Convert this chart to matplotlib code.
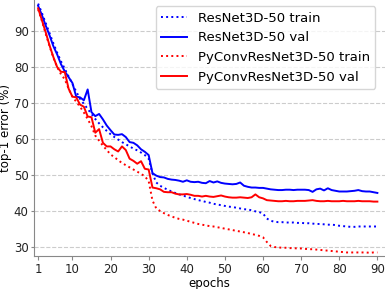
import matplotlib
matplotlib.use("Agg")
import matplotlib.pyplot as plt
import numpy as np

epochs = list(range(1, 91))

resnet_train = [97.6, 95.0, 92.2, 89.4, 86.6, 84.0, 81.6, 79.5, 77.4, 75.3,
                73.2, 71.2, 69.8, 68.4, 67.0, 65.6, 64.4, 63.3, 62.3, 61.4,
                60.6, 59.9, 59.2, 58.6, 58.0, 57.4, 56.9, 56.3, 55.6, 54.6,
                50.5, 48.0, 47.1, 46.5, 46.0, 45.5, 45.1, 44.7, 44.4, 44.0,
                43.7, 43.4, 43.1, 42.9, 42.6, 42.4, 42.1, 41.9, 41.7, 41.5,
                41.3, 41.2, 41.0, 40.8, 40.6, 40.5, 40.3, 40.0, 39.8, 39.4,
                38.0, 37.4, 37.1, 37.0, 37.0, 36.9, 36.9, 36.9, 36.8, 36.8,
                36.7, 36.7, 36.6, 36.5, 36.5, 36.4, 36.3, 36.3, 36.2, 36.0,
                35.9, 35.8, 35.7, 35.7, 35.8, 35.8, 35.8, 35.8, 35.8, 35.8]

resnet_val = [97.0, 94.4, 91.5, 88.8, 85.8, 83.5, 80.8, 78.8, 77.2, 75.6,
              71.8, 71.6, 70.8, 73.8, 67.5, 66.4, 67.0, 65.5, 63.8, 62.5,
              61.3, 61.2, 61.4, 60.6, 59.2, 59.0, 58.3, 57.2, 56.5, 55.6,
              50.6, 49.9, 49.5, 49.4, 49.0, 48.8, 48.7, 48.5, 48.2, 48.6,
              48.2, 48.1, 48.2, 47.9, 47.8, 48.4, 48.0, 48.3, 47.9, 47.7,
              47.6, 47.5, 47.6, 48.0, 47.1, 46.8, 46.6, 46.6, 46.5, 46.5,
              46.3, 46.1, 46.0, 45.9, 45.9, 46.0, 46.0, 45.9, 46.0, 46.0,
              46.0, 45.9, 45.4, 46.1, 46.3, 45.8, 46.4, 45.9, 45.7, 45.5,
              45.5, 45.5, 45.6, 45.7, 45.9, 45.6, 45.5, 45.5, 45.3, 45.1]

pyconv_train = [96.0, 92.8, 89.2, 85.8, 82.6, 80.0, 78.0, 76.6, 74.0, 71.8,
                70.4, 69.0, 67.4, 65.6, 63.6, 61.0, 59.6, 58.2, 57.0, 55.8,
                55.0, 54.2, 53.4, 52.8, 52.2, 51.6, 51.0, 50.4, 49.7, 48.4,
                43.0, 40.8, 40.1, 39.5, 39.0, 38.6, 38.2, 37.9, 37.7, 37.4,
                37.1, 36.8, 36.5, 36.3, 36.1, 35.9, 35.8, 35.6, 35.4, 35.2,
                35.0, 34.8, 34.6, 34.4, 34.2, 34.0, 33.7, 33.5, 33.2, 32.8,
                31.5, 30.4, 30.1, 30.0, 29.9, 29.9, 29.8, 29.8, 29.7, 29.7,
                29.6, 29.5, 29.5, 29.4, 29.3, 29.2, 29.1, 29.0, 28.9, 28.8,
                28.7, 28.6, 28.6, 28.6, 28.6, 28.6, 28.6, 28.5, 28.6, 28.6]

pyconv_val = [96.3, 93.0, 89.6, 86.0, 82.8, 80.0, 78.7, 78.6, 74.0, 71.8,
              71.6, 69.6, 69.0, 66.3, 66.1, 61.8, 62.8, 59.0, 58.0, 58.0,
              57.2, 56.6, 58.0, 57.0, 54.6, 54.0, 53.2, 53.9, 51.8, 51.6,
              46.6, 46.4, 46.1, 45.4, 45.3, 45.3, 44.9, 44.7, 44.7, 44.8,
              44.6, 44.3, 44.3, 44.1, 44.3, 44.1, 44.0, 44.2, 44.4, 44.1,
              43.9, 43.8, 43.8, 43.9, 43.8, 43.7, 43.9, 44.7, 43.9, 43.6,
              43.1, 43.0, 42.9, 42.8, 42.8, 42.9, 42.8, 42.8, 42.9, 42.9,
              42.9, 43.0, 43.1, 42.9, 42.8, 42.8, 42.9, 42.8, 42.8, 42.8,
              42.9, 42.8, 42.8, 42.8, 42.9, 42.8, 42.8, 42.8, 42.7, 42.7]

xticks = [1, 10, 20, 30, 40, 50, 60, 70, 80, 90]
yticks = [30, 40, 50, 60, 70, 80, 90]

fig = plt.figure(figsize=(3.85, 2.89), dpi=100)
ax = fig.add_axes([34.3 / 385, 33.3 / 289, 1 - 34.3 / 385, 255.7 / 289])

ax.plot(epochs, resnet_train, color="blue", linestyle=":", linewidth=1.4, label="ResNet3D-50 train")
ax.plot(epochs, resnet_val, color="blue", linestyle="-", linewidth=1.4, label="ResNet3D-50 val")
ax.plot(epochs, pyconv_train, color="red", linestyle=":", linewidth=1.4, label="PyConvResNet3D-50 train")
ax.plot(epochs, pyconv_val, color="red", linestyle="-", linewidth=1.4, label="PyConvResNet3D-50 val")

ax.set_xlim(0, 92)
ax.set_ylim(27.7, 98.6)
ax.set_xticks(xticks)
ax.set_yticks(yticks)
ax.tick_params(labelsize=8.5, colors="#222222", length=3, pad=2)
ax.tick_params(axis="both", color="#888888")
ax.tick_params(axis="y", length=2)
ax.yaxis.grid(True, linestyle="--", color="#cccccc", linewidth=0.8)
ax.set_axisbelow(True)
for s in ["top", "right"]:
    ax.spines[s].set_visible(False)
for s in ["left", "bottom"]:
    ax.spines[s].set_color("#888888")
ax.set_xlabel("epochs", fontsize=8.5, labelpad=1)
ax.set_ylabel("top-1 error (%)", fontsize=8.5, labelpad=1)
ax.legend(loc="upper right", fontsize=9.5, edgecolor="#cccccc",
          bbox_to_anchor=(0.98, 0.985), borderaxespad=0.2)

fig.savefig("out.png", dpi=100)
